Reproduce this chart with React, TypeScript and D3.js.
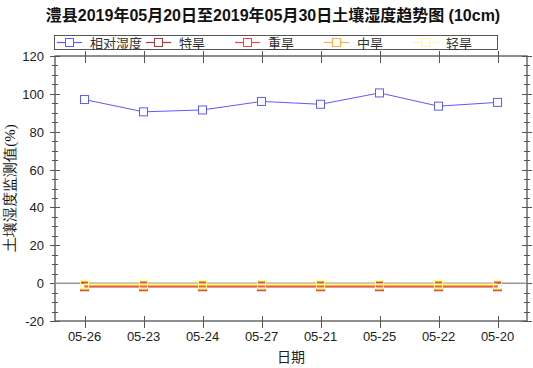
import React, { useEffect, useRef } from 'react';
import * as d3 from 'd3';

const title = '澧县2019年05月20日至2019年05月30日土壤湿度趋势图 (10cm)';
const dates = ['05-26', '05-23', '05-24', '05-27', '05-21', '05-25', '05-22', '05-20'];
const humidity = [97, 90.5, 91.5, 96, 94.5, 100.5, 93.5, 95.5];
const teHan = [-1.9, -1.9, -1.9, -1.9, -1.9, -1.9, -1.9, -1.9];
const zhongHan = [-1.6, -1.6, -1.6, -1.6, -1.6, -1.6, -1.6, -1.6];
const zhongHan2 = [-1.2, -1.2, -1.2, -1.2, -1.2, -1.2, -1.2, -1.2];
const qingHan = [-0.6, -0.6, -0.6, -0.6, -0.6, -0.6, -0.6, -0.6];
const seriesNames = ['相对湿度', '特旱', '重旱', '中旱', '轻旱'];
const seriesColors = ['#5b5bff', '#b03a3a', '#ff3b3b', '#ffab4a', '#ffff88'];
const yTicks = [-20, 0, 20, 40, 60, 80, 100, 120];

export default function App() {
  const svgRef = useRef<SVGSVGElement | null>(null);

  useEffect(() => {
    if (!svgRef.current) return;
    const width = 533;
    const height = 368;
    const m = { left: 55, right: 527, top: 56, bottom: 321 };

    const svg = d3.select(svgRef.current);
    svg.selectAll('*').remove();
    svg.attr('width', width).attr('height', height);

    const x = d3.scaleBand<string>().domain(dates).range([m.left, m.right]);
    const xc = (d: string) => (x(d) as number) + x.bandwidth() / 2;
    const y = d3.scaleLinear().domain([-20, 120]).range([m.bottom, m.top]);

    // title
    svg.append('text')
      .attr('x', 273).attr('y', 21)
      .attr('text-anchor', 'middle')
      .style('font-family', 'Liberation Sans, Noto Sans CJK SC, sans-serif')
      .style('font-size', '16px')
      .style('font-weight', 'bold')
      .style('fill', '#111')
      .text(title);

    // legend box
    svg.append('rect')
      .attr('x', 54.5).attr('y', 35.5).attr('width', 443).attr('height', 14)
      .attr('fill', 'white').attr('stroke', '#555');

    const all = [humidity, teHan, zhongHan, zhongHan2, qingHan];

    seriesNames.forEach((name, i) => {
      const lx = 57 + i * 89;
      const g = svg.append('g');
      g.append('line')
        .attr('x1', lx).attr('x2', lx + 25).attr('y1', 42.5).attr('y2', 42.5)
        .attr('stroke', seriesColors[i]).attr('stroke-width', 1.2);
      g.append('rect')
        .attr('x', lx + 8.5).attr('y', 38.5).attr('width', 8).attr('height', 8)
        .attr('fill', 'white').attr('stroke', seriesColors[i]);
      g.append('text')
        .attr('x', lx + 33).attr('y', 47.5)
        .style('font-family', 'Noto Sans CJK SC, sans-serif')
        .style('font-size', '13px')
        .style('fill', '#333')
        .text(name);
    });

    // plot frame
    svg.append('rect')
      .attr('x', m.left).attr('y', m.top)
      .attr('width', m.right - m.left).attr('height', m.bottom - m.top)
      .attr('fill', 'none').attr('stroke', '#444').attr('stroke-width', 1.2);

    // y ticks, both sides
    const minor = d3.range(-20, 121, 5);
    [m.left, m.right].forEach((ax) => {
      svg.append('g').selectAll('line')
        .data(minor)
        .enter()
        .append('line')
        .attr('x1', d => ax - (d % 20 === 0 ? 5 : 3))
        .attr('x2', d => ax + (d % 20 === 0 ? 5 : 3))
        .attr('y1', d => Math.round(y(d)) + 0.5)
        .attr('y2', d => Math.round(y(d)) + 0.5)
        .attr('stroke', '#555');
    });

    svg.append('g').selectAll('text')
      .data(yTicks)
      .enter()
      .append('text')
      .attr('x', 44).attr('y', d => y(d) + 5)
      .attr('text-anchor', 'end')
      .style('font-family', 'Liberation Sans, Arial, sans-serif')
      .style('font-size', '13px')
      .style('fill', '#222')
      .text(d => d);

    // x ticks, top and bottom
    [m.top, m.bottom].forEach((ay) => {
      svg.append('g').selectAll('line')
        .data(dates)
        .enter()
        .append('line')
        .attr('x1', d => Math.round(xc(d)) + 0.5)
        .attr('x2', d => Math.round(xc(d)) + 0.5)
        .attr('y1', ay - 5).attr('y2', ay + 7)
        .attr('stroke', '#555');
    });

    svg.append('g').selectAll('text')
      .data(dates)
      .enter()
      .append('text')
      .attr('x', d => xc(d)).attr('y', 341)
      .attr('text-anchor', 'middle')
      .style('font-family', 'Liberation Sans, Arial, sans-serif')
      .style('font-size', '13px')
      .style('fill', '#222')
      .text(d => d);

    // zero line
    svg.append('line')
      .attr('x1', m.left).attr('x2', m.right)
      .attr('y1', y(0)).attr('y2', y(0))
      .attr('stroke', '#999').attr('stroke-width', 1.5);

    // series, drought levels first, humidity on top
    const line = d3.line<number>()
      .x((_, i) => xc(dates[i]))
      .y(d => y(d));

    [1, 2, 3, 4, 0].forEach((si) => {
      const vals = all[si];
      svg.append('path')
        .datum(vals)
        .attr('d', line)
        .attr('fill', 'none')
        .attr('stroke', seriesColors[si])
        .attr('stroke-width', si === 0 ? 1 : 1.6);
      svg.append('g').selectAll('rect')
        .data(vals)
        .enter()
        .append('rect')
        .attr('x', (_, i) => xc(dates[i]) - 4)
        .attr('y', d => y(d) - 4)
        .attr('width', 8).attr('height', 8)
        .attr('fill', si === 0 ? 'white' : 'none')
        .attr('stroke', seriesColors[si]);
    });

    // axis titles
    svg.append('text')
      .attr('x', 291).attr('y', 362)
      .attr('text-anchor', 'middle')
      .style('font-family', 'Noto Sans CJK SC, sans-serif')
      .style('font-size', '14px')
      .style('fill', '#222')
      .text('日期');

    svg.append('text')
      .attr('transform', `translate(15,188) rotate(-90)`)
      .attr('text-anchor', 'middle')
      .style('font-family', 'serif')
      .style('font-size', '15px')
      .style('fill', '#111')
      .text('土壤湿度监测值(%)');
  }, []);

  return (
    <div style={{ position: 'absolute', left: 0, top: 0 }}>
      <svg ref={svgRef}></svg>
    </div>
  );
}
